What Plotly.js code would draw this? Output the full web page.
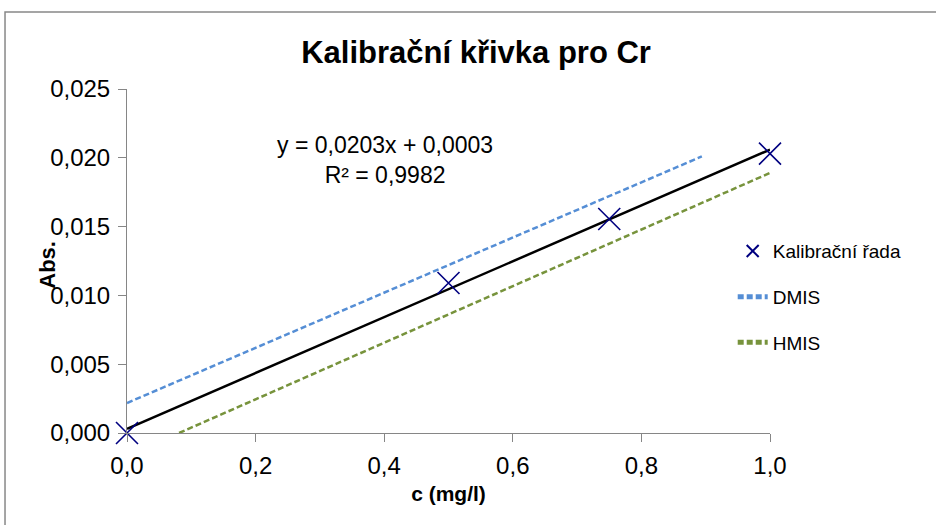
<!DOCTYPE html>
<html><head><meta charset="utf-8">
<script src="https://cdn.plot.ly/plotly-3.0.1.min.js"></script>
<style>html,body{margin:0;padding:0;background:#fff}#chart{width:936px;height:525px}</style>
</head><body><div id="chart"></div>
<script>
// Calibration data
const concentrations = [0, 0.5, 0.75, 1.0];
const absorbances = [0.0000, 0.0109, 0.01555, 0.0203];
// Regression trendline (y = 0,0203x + 0,0003)
const trendX = [0, 1.0];
const trendY = [0.0003, 0.0206];
// DMIS / HMIS limit lines
const dmisX = [0, 0.894];
const dmisY = [0.00218, 0.0201];
const hmisX = [0.081, 1.0];
const hmisY = [0.0, 0.0189];
const xTicks = [0, 0.2, 0.4, 0.6, 0.8, 1.0];
const yTicks = [0, 0.005, 0.010, 0.015, 0.020, 0.025];

const font = 'Liberation Sans, Arial, sans-serif';
const traces = [
  {x: trendX, y: trendY, mode: 'lines', line: {color: '#000', width: 2.5}, showlegend: false, hoverinfo: 'skip', cliponaxis: false},
  {x: dmisX, y: dmisY, mode: 'lines', name: 'DMIS', legendrank: 2, legendgroup: 'b', line: {color: '#558ED5', width: 2.5, dash: '6px,3px'}, cliponaxis: false},
  {x: hmisX, y: hmisY, mode: 'lines', name: 'HMIS', legendrank: 3, legendgroup: 'c', line: {color: '#77933C', width: 2.5, dash: '6px,3px'}, cliponaxis: false},
  {x: concentrations, y: absorbances, mode: 'markers', name: 'Kalibrační řada', legendrank: 1, legendgroup: 'a',
   marker: {symbol: 'x-thin-open', size: 22, color: '#000080', line: {color: '#000080', width: 1.6}}, cliponaxis: false}
];
const layout = {
  width: 936, height: 525,
  separators: ', ',
  paper_bgcolor: '#fff', plot_bgcolor: '#fff',
  margin: {l: 127, r: 166, t: 89, b: 92, autoexpand: false},
  font: {family: font, size: 23, color: '#000'},
  title: {text: '<b>Kalibrační křivka pro Cr</b>', font: {family: font, size: 31, color: '#000'}, x: 0.5086, xref: 'container', y: 0.9, yref: 'container', yanchor: 'middle'},
  xaxis: {range: [0, 1.0], tickvals: xTicks, tickformat: '.1f', showgrid: false, zeroline: false,
    showline: true, linecolor: '#868686', linewidth: 1, ticks: 'outside', ticklen: 8, tickcolor: '#868686',
    ticklabelstandoff: 3,
    tickfont: {size: 24}, title: {text: '<b>c (mg/l)</b>', font: {size: 21}, standoff: 8}},
  yaxis: {range: [0, 0.025], tickvals: yTicks, tickformat: '.3f', showgrid: false, zeroline: false,
    showline: true, linecolor: '#868686', linewidth: 1, ticks: 'outside', ticklen: 8, tickcolor: '#868686',
    ticklabelstandoff: 3,
    tickfont: {size: 24}},
  legend: {x: 0.942, y: 0.395, xanchor: 'left', yanchor: 'middle', traceorder: 'grouped', itemsizing: 'constant',
    font: {size: 19}, tracegroupgap: 18, bgcolor: 'rgba(0,0,0,0)'},
  annotations: [
    {xref: 'paper', yref: 'paper', x: 0.401, y: 0.88, showarrow: false,
     text: 'y = 0,0203x + 0,0003<br>R² = 0,9982', font: {size: 23}, align: 'center'},
    {xref: 'paper', yref: 'paper', x: -0.146, y: 0.488, showarrow: false, textangle: -90,
     text: '<b>Abs.</b>', font: {size: 22}}
  ],
  shapes: [{type: 'rect', xref: 'paper', yref: 'paper', x0: -0.1897, x1: 2, y0: -1, y1: 1.2238,
    line: {color: '#888', width: 1.5}, layer: 'below'}]
};
Plotly.newPlot('chart', traces, layout, {displayModeBar: false, staticPlot: true});
</script></body></html>
